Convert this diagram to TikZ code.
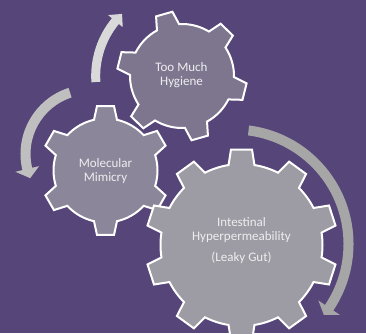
\documentclass[tikz,border=0pt]{standalone}
\usepackage{fontspec}
\setmainfont{Carlito}
\definecolor{bg}{HTML}{564579}
\definecolor{gearA}{HTML}{7E758F}
\definecolor{gearB}{HTML}{8B8699}
\definecolor{gearC}{HTML}{9D9BA3}
\definecolor{arrA}{HTML}{D9D9D9}
\definecolor{arrB}{HTML}{BFBFBF}
\definecolor{arrC}{HTML}{A6A6A6}
\definecolor{txt}{HTML}{EEEEF0}
\newcommand{\myarrow}[8]{%
  \begin{scope}[shift={(#1)}]
    \fill[#8] (#5:#2+#3) arc[start angle=#5, end angle=#6, radius=#2+#3]
      -- (#6:#2+#4) -- (#7:#2) -- (#6:#2-#4) -- (#6:#2-#3)
      arc[start angle=#6, end angle=#5, radius=#2-#3] -- cycle;
  \end{scope}}
\begin{document}
\begin{tikzpicture}[x=1pt,y=1pt,
  gear/.style={draw=white, line width=2pt, line join=miter},
  lbl/.style={text=txt, align=center, font=\fontsize{13}{14.5}\selectfont, inner sep=0pt}]
\fill[bg] (0,0) rectangle (366,333);
\useasboundingbox (0,0) rectangle (366,333);

% top gear: Too Much Hygiene
\begin{scope}[shift={(182,257)}]
\draw[gear, fill=gearA] (46-12.78:52)
  \foreach \a in {46,106,...,346} {
    -- (\a-7.51:65) -- (\a+7.51:65) -- (\a+12.78:52)
    arc[start angle=\a+12.78, end angle=\a+60-12.78, radius=52] } -- cycle;
\end{scope}

% left gear: Molecular Mimicry
\begin{scope}[shift={(105.5,162.5)}]
\draw[gear, fill=gearB] (90-12.78:52)
  \foreach \a in {90,150,...,390} {
    -- (\a-7.51:65) -- (\a+7.51:65) -- (\a+12.78:52)
    arc[start angle=\a+12.78, end angle=\a+60-12.78, radius=52] } -- cycle;
\end{scope}

% big gear: Intestinal Hyperpermeability
\begin{scope}[shift={(241.5,88)}]
\draw[gear, fill=gearC] (90-9.2:81)
  \foreach \a in {90,126,...,414} {
    -- (\a-6.3:96) -- (\a+6.3:96) -- (\a+9.2:81)
    arc[start angle=\a+9.2, end angle=\a+36-9.2, radius=81] } -- cycle;
\end{scope}

% arrows
\myarrow{182,257}{86.3}{4.5}{9.5}{184}{140.5}{134}{arrA}
\myarrow{90,179}{64.5}{5}{12.2}{108}{193.4}{202}{arrB}
\myarrow{234,89}{114.5}{5}{13}{82.7}{-33.8}{-38.3}{arrC}

% labels
\node[lbl] (hyg) at (181.5,258) {Too Much\\Hygiene};
\node[lbl] (mim) at (105.5,162) {Molecular\\Mimicry};
\node[lbl] (gut) at (241.5,92.5) {Intestinal\\Hyperpermeability\\[6pt](Leaky Gut)};
\end{tikzpicture}
\end{document}
